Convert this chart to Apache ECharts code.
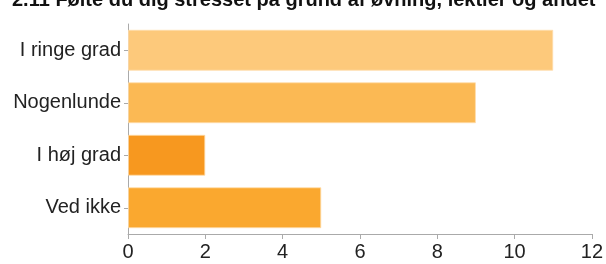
<!DOCTYPE html>
<html><head><meta charset="utf-8">
<script src="https://cdn.jsdelivr.net/npm/echarts@6/dist/echarts.min.js"></script>
<style>html,body{margin:0;padding:0;background:#fff}#c{width:606px;height:264px}</style>
</head><body><div id="c"></div>
<script>
const titleText = "2.11 Følte du dig stresset på grund af øvning, lektier og andet";
const categories = ["I ringe grad", "Nogenlunde", "I høj grad", "Ved ikke"];
const values = [11, 9, 2, 5];
const barColors = ["#FDC97B", "#FBB954", "#F7981F", "#FAA82F"];
const xTicks = [0, 2, 4, 6, 8, 10, 12];

const chart = echarts.init(document.getElementById('c'));
chart.setOption({
  animation: false,
  title: {
    text: titleText, left: 7, top: -15,
    textStyle: {fontFamily: 'Liberation Sans', fontWeight: 'bold', fontSize: 20, color: '#111'}
  },
  grid: {left: 128, right: 14, top: 24, bottom: 30, containLabel: false},
  xAxis: {
    type: 'value', min: xTicks[0], max: xTicks[xTicks.length - 1], interval: 2,
    axisLine: {show: true, lineStyle: {color: '#aaa'}},
    axisTick: {show: true, length: 5, lineStyle: {color: '#aaa'}},
    splitLine: {show: false},
    axisLabel: {fontFamily: 'Liberation Sans', fontSize: 20, color: '#222', margin: 8}
  },
  yAxis: {
    type: 'category', data: categories, inverse: true,
    axisLine: {show: true, lineStyle: {color: '#aaa'}},
    axisTick: {show: true, alignWithLabel: true, length: 4, lineStyle: {color: '#aaa'}},
    axisLabel: {fontFamily: 'Liberation Sans', fontSize: 20, color: '#222', margin: 7}
  },
  series: [{
    type: 'bar',
    data: values.map((v, i) => ({value: v, itemStyle: {color: barColors[i]}})),
    barCategoryGap: '22%',
    itemStyle: {borderColor: 'rgba(255,220,170,0.8)', borderWidth: 1}
  }]
});
</script></body></html>
